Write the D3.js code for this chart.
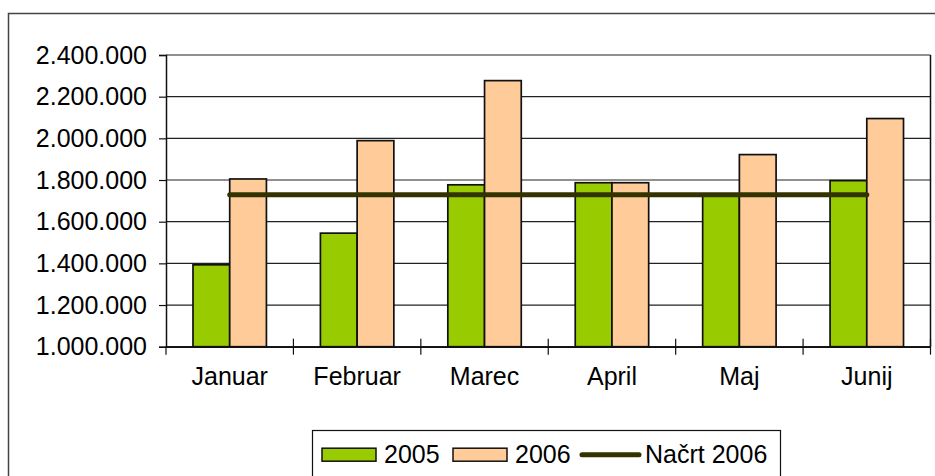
<!DOCTYPE html>
<html><head><meta charset="utf-8">
<script src="https://cdn.jsdelivr.net/npm/d3@7"></script>
<style>
html,body{margin:0;padding:0;background:#fff;}
svg{display:block;font-family:"Liberation Sans",Arial,sans-serif;}
</style></head>
<body>
<svg id="c" width="935" height="476"></svg>
<script>
const categories = ["Januar","Februar","Marec","April","Maj","Junij"];
const series = ["2005","2006"];
const values2005 = [1393000,1545000,1777000,1787000,1725000,1797000];
const values2006 = [1805000,1989000,2277000,1787000,1922000,2095000];
const plan2006 = [1729000,1729000,1729000,1729000,1729000,1729000];
const planLabel = "Načrt 2006";
const yTicks = [1000000,1200000,1400000,1600000,1800000,2000000,2200000,2400000];
const colors = {"2005":"#99CC00","2006":"#FFCC99"};
const lineColor = "#333300";

const svg = d3.select("#c");
const L = 166, R = 930.5, T = 55, B = 346.7;
const fs = 25;

// outer frame
svg.append("rect").attr("x",8.5).attr("y",13.5).attr("width",940).attr("height",480)
  .attr("fill","none").attr("stroke","#444").attr("stroke-width",1.5);

const x = d3.scaleBand().domain(categories).range([L,R]).padding(0);
const x1 = d3.scaleBand().domain(series).range([0,x.bandwidth()]).paddingInner(0).paddingOuter(0.735);
const y = d3.scaleLinear().domain([1000000,2400000]).range([B,T]);

const loc = d3.formatLocale({decimal:",",thousands:".",grouping:[3],currency:["",""]});
const fmt = loc.format(",d");

// gridlines
svg.append("g").selectAll("line").data(yTicks).join("line")
  .attr("x1",L).attr("x2",R).attr("y1",d=>y(d)).attr("y2",d=>y(d))
  .attr("stroke","#222").attr("stroke-width",1.2);

// right border
svg.append("line").attr("x1",R).attr("x2",R).attr("y1",T).attr("y2",B)
  .attr("stroke","#111").attr("stroke-width",1.5);

// bars
const data = categories.map((c,i)=>({c, v:{"2005":values2005[i],"2006":values2006[i]}}));
const g = svg.append("g");
data.forEach(d=>{
  series.forEach(s=>{
    g.append("rect")
      .attr("x",x(d.c)+x1(s)).attr("width",x1.bandwidth())
      .attr("y",y(d.v[s])).attr("height",B-y(d.v[s]))
      .attr("fill",colors[s]).attr("stroke","#111").attr("stroke-width",1.7);
  });
});

// y axis
const ya = svg.append("g").attr("transform",`translate(${L},0)`)
  .call(d3.axisLeft(y).tickValues(yTicks).tickFormat(fmt).tickSize(7).tickPadding(12));
ya.select(".domain").attr("stroke","#111").attr("stroke-width",1.5);
ya.selectAll(".tick line").attr("stroke","#111").attr("stroke-width",1.2);
ya.selectAll("text").attr("font-size",fs).attr("fill","#000").attr("font-family","Liberation Sans, Arial, sans-serif");

// x axis
const xa = svg.append("g").attr("transform",`translate(0,${B})`)
  .call(d3.axisBottom(x).tickSize(0).tickPadding(21));
xa.select(".domain").attr("stroke","#111").attr("stroke-width",1.5);
xa.selectAll("text").attr("font-size",fs).attr("fill","#000").attr("font-family","Liberation Sans, Arial, sans-serif");
// category boundary ticks crossing axis
const bounds = categories.slice(1).map(c=>x(c)).concat([R]);
svg.append("g").selectAll("line").data(bounds).join("line")
  .attr("x1",d=>d).attr("x2",d=>d).attr("y1",B-8).attr("y2",B+8)
  .attr("stroke","#111").attr("stroke-width",1.2);
svg.append("line").attr("x1",L).attr("x2",L).attr("y1",B).attr("y2",B+8).attr("stroke","#111").attr("stroke-width",1.2);

// plan line
const line = d3.line().x((d,i)=>x(categories[i])+x.bandwidth()/2).y(d=>y(d));
svg.append("path").datum(plan2006).attr("d",line).attr("fill","none")
  .attr("stroke",lineColor).attr("stroke-width",5).attr("stroke-linecap","round");

// legend
const lg = svg.append("g");
lg.append("rect").attr("x",312.5).attr("y",430.5).attr("width",468).attr("height",60)
  .attr("fill","#fff").attr("stroke","#111").attr("stroke-width",1.2);
const ly = 454.7;
const items = [{s:"2005",x:322},{s:"2006",x:453}];
items.forEach(it=>{
  lg.append("rect").attr("x",it.x).attr("y",ly-6.5).attr("width",54).attr("height",13)
    .attr("fill",colors[it.s]).attr("stroke","#111").attr("stroke-width",1.5);
  lg.append("text").attr("x",it.x+62).attr("y",ly).attr("dy","0.35em")
    .attr("font-size",fs).text(it.s);
});
lg.append("line").attr("x1",582).attr("x2",639).attr("y1",ly).attr("y2",ly)
  .attr("stroke",lineColor).attr("stroke-width",5).attr("stroke-linecap","round");
lg.append("text").attr("x",645).attr("y",ly).attr("dy","0.35em").attr("font-size",fs).text(planLabel);
</script>
</body></html>
